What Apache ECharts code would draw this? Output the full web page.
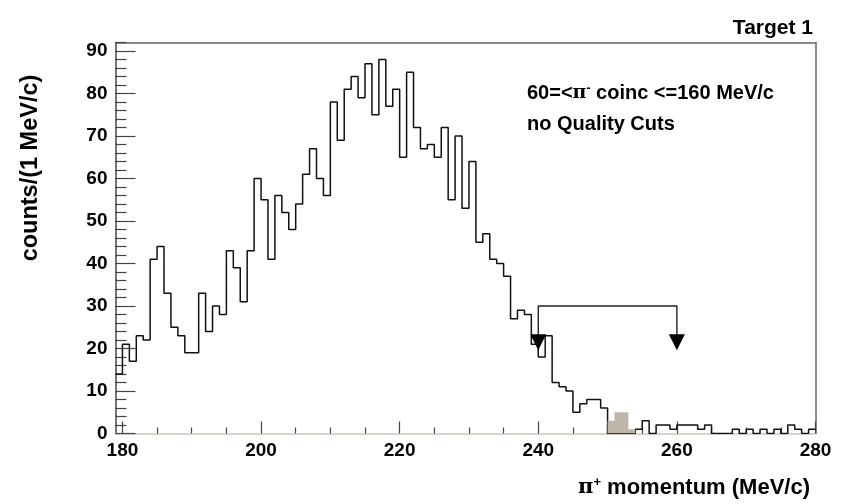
<!DOCTYPE html>
<html>
<head>
<meta charset="utf-8">
<script src="https://cdn.jsdelivr.net/npm/echarts@6/dist/echarts.min.js"></script>
<style>
html,body{margin:0;padding:0;background:#fff;}
#chart{width:844px;height:504px;}
</style>
</head>
<body>
<div id="chart"></div>
<script>
// ---- data ----
const binStart = 179;      // left edge of first bin (MeV/c)
const binWidth = 1;        // MeV/c
const counts = [
  14, 21, 17, 23, 22, 41, 44, 33, 25, 23,   // 179-188
  19, 19, 33, 24, 30, 28, 43, 39, 31, 43,   // 189-198
  60, 55, 41, 56, 52, 48, 54, 61, 67, 60,   // 199-208
  56, 78, 69, 81, 84, 79, 87, 75, 88, 77,   // 209-218
  81, 65, 85, 72, 67, 68, 65, 72, 55, 70,   // 219-228
  53, 64, 45, 47, 41, 40, 37, 27, 29, 28,   // 229-238
  21, 18, 23, 12, 11, 10, 5, 7, 8, 8,       // 239-248
  6, 0, 0, 0, 0, 1, 3, 0, 2, 2,             // 249-258
  1, 2, 2, 2, 1, 2, 0, 0, 0, 1,             // 259-268
  0, 1, 0, 1, 0, 1, 0, 2, 1, 0,             // 269-278
  1                                         // 279
];
const greyStart = 250;
const greyCounts = [3, 5, 5, 1];
const cutMomenta = [240, 260];
const cutBracketLevel = 30;
const cutArrowTop = 23.2;
const cutArrowCenter = 21.5;
const xMajorTicks = [180, 200, 220, 240, 260, 280];
const xMinorTicks = [185, 190, 195, 205, 210, 215, 225, 230, 235, 245, 250, 255, 265, 270, 275];
const yMajorTicks = [0, 10, 20, 30, 40, 50, 60, 70, 80, 90];
const yMinorTicks = [2,4,6,8,12,14,16,18,22,24,26,28,32,34,36,38,42,44,46,48,52,54,56,58,62,64,66,68,72,74,76,78,82,84,86,88,92];
const xRange = [179, 280];
const yRange = [0, 92];

// ---- build series data ----
const histData = counts.map((c, i) => [binStart + i * binWidth, c]);
histData.push([binStart + counts.length * binWidth, counts[counts.length - 1]]);
const greyData = greyCounts.map((c, i) => [greyStart + i * binWidth, c]);
greyData.push([greyStart + greyCounts.length * binWidth, greyCounts[greyCounts.length - 1]]);
const bracketData = [
  [cutMomenta[0], cutArrowTop], [cutMomenta[0], cutBracketLevel],
  [cutMomenta[1], cutBracketLevel], [cutMomenta[1], cutArrowTop]
];
const arrowData = cutMomenta.map(x => [x, cutArrowCenter]);

const FONT = '"Liberation Sans", Arial, Helvetica, sans-serif';
const labelStyle = {fontFamily: FONT, fontWeight: 'bold', fontSize: 19, color: '#000'};

const chart = echarts.init(document.getElementById('chart'), null, {renderer: 'canvas'});
chart.setOption({
  backgroundColor: '#fff',
  animation: false,
  grid: {left: 115.5, right: 28.5, top: 42.5, bottom: 70.5, show: false, containLabel: false},
  title: [
    {text: 'Target 1', right: 26, top: 13,
     textStyle: {fontFamily: FONT, fontWeight: 'bold', fontSize: 21, color: '#000'}},
    {text: '{a|60=<}{pi|π}{sup|-}{a| coinc <=160 MeV/c}\n{a|no Quality Cuts}', left: 522, top: 73,
     textStyle: {rich: {
       a: {fontFamily: FONT, fontWeight: 'bold', fontSize: 20, color: '#000', lineHeight: 31},
       pi: {fontFamily: '"DejaVu Serif", serif', fontSize: 19, color: '#000', lineHeight: 31},
       sup: {fontFamily: FONT, fontWeight: 'bold', fontSize: 12, color: '#000', lineHeight: 31, padding: [0, 0, 10, 0]}
     }}},
    {text: '{pi|π}{sup|+}{a| momentum (MeV/c)}', right: 29, top: 469,
     textStyle: {rich: {
       a: {fontFamily: FONT, fontWeight: 'bold', fontSize: 22, color: '#000', lineHeight: 28},
       pi: {fontFamily: '"DejaVu Serif", serif', fontSize: 21, color: '#000', lineHeight: 28},
       sup: {fontFamily: FONT, fontWeight: 'bold', fontSize: 13, color: '#000', lineHeight: 28, padding: [0, 0, 12, 0]}
     }}}
  ],
  graphic: [
    {type: 'text', x: 31, y: 168, rotation: Math.PI / 2,
     style: {text: 'counts/(1 MeV/c)', fontFamily: FONT, fontWeight: 'bold', fontSize: 23.5, fill: '#000',
             align: 'center', verticalAlign: 'middle'}}
  ],
  xAxis: [
    {type: 'value', min: xRange[0], max: xRange[1], position: 'bottom',
     axisLine: {show: true, onZero: false, lineStyle: {color: '#cdc5bd', width: 1.5}},
     axisTick: {show: true, inside: true, length: 12, customValues: xMajorTicks, lineStyle: {color: '#444', width: 1.2}},
     axisLabel: Object.assign({show: true, margin: 8, customValues: xMajorTicks}, labelStyle),
     splitLine: {show: false}},
    {type: 'value', min: xRange[0], max: xRange[1], position: 'bottom',
     axisLine: {show: false},
     axisTick: {show: true, inside: true, length: 6, customValues: xMinorTicks, lineStyle: {color: '#444', width: 1.2}},
     axisLabel: {show: false}, splitLine: {show: false}},
    {type: 'value', min: xRange[0], max: xRange[1], position: 'top',
     axisLine: {show: true, onZero: false, lineStyle: {color: '#666', width: 1.5}},
     axisTick: {show: false}, axisLabel: {show: false}, splitLine: {show: false}}
  ],
  yAxis: [
    {type: 'value', min: yRange[0], max: yRange[1], position: 'left',
     axisLine: {show: true, onZero: false, lineStyle: {color: '#444', width: 1.5}},
     axisTick: {show: true, inside: true, length: 20, customValues: yMajorTicks, lineStyle: {color: '#444', width: 1.2}},
     axisLabel: Object.assign({show: true, margin: 8, customValues: yMajorTicks}, labelStyle),
     splitLine: {show: false}},
    {type: 'value', min: yRange[0], max: yRange[1], position: 'left',
     axisLine: {show: false},
     axisTick: {show: true, inside: true, length: 11, customValues: yMinorTicks, lineStyle: {color: '#444', width: 1.2}},
     axisLabel: {show: false}, splitLine: {show: false}},
    {type: 'value', min: yRange[0], max: yRange[1], position: 'right',
     axisLine: {show: true, onZero: false, lineStyle: {color: '#666', width: 1.5}},
     axisTick: {show: false}, axisLabel: {show: false}, splitLine: {show: false}}
  ],
  series: [
    {type: 'line', name: 'pi+ momentum', step: 'end', data: histData, showSymbol: false, symbol: 'none',
     xAxisIndex: 0, yAxisIndex: 0, clip: true,
     lineStyle: {color: '#111', width: 1.5}, z: 3},
    {type: 'line', name: 'grey', step: 'end', data: greyData, showSymbol: false, symbol: 'none',
     xAxisIndex: 0, yAxisIndex: 0,
     lineStyle: {width: 0, opacity: 0}, areaStyle: {color: '#bfb5ab', opacity: 1}, z: 4},
    {type: 'line', name: 'cut', data: bracketData, showSymbol: false, symbol: 'none',
     xAxisIndex: 0, yAxisIndex: 0,
     lineStyle: {color: '#222', width: 1.4}, z: 5},
    {type: 'scatter', name: 'arrows', data: arrowData, symbol: 'triangle', symbolRotate: 180,
     symbolSize: [16, 16], xAxisIndex: 0, yAxisIndex: 0,
     itemStyle: {color: '#000', opacity: 1}, z: 6}
  ]
});
</script>
</body>
</html>
